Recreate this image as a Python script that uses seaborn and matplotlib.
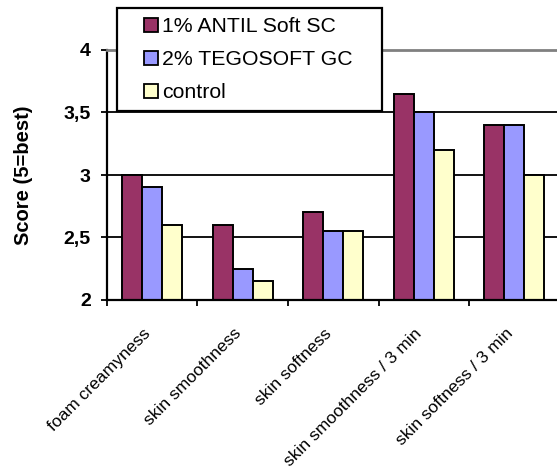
import numpy as np
import pandas as pd
import matplotlib
matplotlib.use("Agg")
import matplotlib.pyplot as plt
from matplotlib.patches import Patch, Rectangle
from matplotlib.legend_handler import HandlerPatch
from matplotlib.transforms import ScaledTranslation
import seaborn as sns

categories = ["foam creamyness", "skin smoothness", "skin softness",
              "skin smoothness / 3 min", "skin softness / 3 min"]
series_names = ["1% ANTIL Soft SC", "2% TEGOSOFT GC", "control"]
antil = [3.0, 2.6, 2.7, 3.65, 3.4]
tegosoft = [2.9, 2.25, 2.55, 3.5, 3.4]
control = [2.6, 2.15, 2.55, 3.2, 3.0]
colors = ["#993366", "#9999FF", "#FFFFCC"]
y_ticks = [2, 2.5, 3, 3.5, 4]
y_tick_labels = ["2", "2,5", "3", "3,5", "4"]
y_label = "Score (5=best)"

df = pd.DataFrame({
    "category": categories * 3,
    "series": sum([[s] * len(categories) for s in series_names], []),
    "score": antil + tegosoft + control,
})

sns.set_theme(style="white")
plt.rcParams["font.family"] = ["Liberation Sans", "DejaVu Sans"]
for key in ["text.color", "axes.labelcolor", "xtick.color", "ytick.color"]:
    plt.rcParams[key] = "black"

W, H = 557, 470
fig = plt.figure(figsize=(W / 100, H / 100), dpi=100)
ax_l, ax_r, ax_t, ax_b = 106.7, 559.7, 50, 300
ax = fig.add_axes([ax_l / W, 1 - ax_b / H, (ax_r - ax_l) / W, (ax_b - ax_t) / H])

sns.barplot(data=df, x="category", y="score", hue="series", order=categories,
            hue_order=series_names, palette=colors, width=0.662, gap=0,
            edgecolor="black", linewidth=1.4, saturation=1, ax=ax, legend=False)

ax.set_ylim(2, 4)
ax.set_xlim(-0.5, len(categories) - 0.5)
ax.set_yticks(y_ticks)
ax.set_yticklabels(y_tick_labels, fontsize=14, fontweight="bold", color="black")
ax.set_ylabel(y_label, fontsize=14.5, fontweight="bold", color="black")
ax.yaxis.set_label_coords(-0.163, 0.5)
ax.set_xlabel("")

ax.set_axisbelow(True)
ax.grid(axis="y", color="black", linewidth=1.3)
ax.grid(axis="x", visible=False)

for side in ["left", "bottom"]:
    ax.spines[side].set_color("black")
    ax.spines[side].set_linewidth(1.6)
for side in ["top", "right"]:
    ax.spines[side].set_color("#808080")
    ax.spines[side].set_linewidth(2.0)
    ax.spines[side].set_visible(True)

ax.tick_params(axis="y", which="major", direction="out", length=4.5, width=1.3,
               color="black", labelcolor="black", pad=7, left=True)
ax.set_xticks(np.arange(len(categories)))
ax.set_xticklabels(categories, fontsize=12.5, rotation=45, ha="right",
                   va="center", rotation_mode="anchor", color="black")
ax.set_xticks(np.arange(len(categories) + 1) - 0.5, minor=True)
ax.tick_params(axis="x", which="major", length=0, pad=22.5, labelcolor="black")
ax.tick_params(axis="x", which="minor", direction="out", length=4.5, width=1.3,
               color="black", bottom=True)
shift = ScaledTranslation(-4 / 100, 0, fig.dpi_scale_trans)
for lab in ax.get_xticklabels():
    lab.set_transform(lab.get_transform() + shift)


class RightSquare(HandlerPatch):
    def __init__(self, side_em, **kw):
        self.side_em = side_em
        super().__init__(**kw)

    def _create_patch(self, legend, orig_handle, xdescent, ydescent, width, height, fontsize):
        s = self.side_em * fontsize
        return Rectangle((-xdescent + width - s, -ydescent + (height - s) / 2), s, s)


handles = [Patch(facecolor=c, edgecolor="black", linewidth=1.3, label=n)
           for c, n in zip(colors, series_names)]
leg_l, leg_r, leg_t, leg_b = 117.3, 381.7, 8.3, 115
leg = fig.legend(handles=handles, loc="upper left",
                 bbox_to_anchor=(leg_l / W, 1 - leg_b / H, (leg_r - leg_l) / W, (leg_b - leg_t) / H),
                 mode="expand", borderaxespad=0, fontsize=15.3, frameon=True,
                 fancybox=False, shadow=False, framealpha=1, edgecolor="black",
                 borderpad=0.42, labelspacing=0.66, handlelength=1.5,
                 handleheight=0.66, handletextpad=0.2, labelcolor="black",
                 handler_map={Patch: RightSquare(0.66)})
leg.get_frame().set_linewidth(1.6)
leg.set_zorder(10)

fig.savefig("out.png", dpi=100, facecolor="white")
